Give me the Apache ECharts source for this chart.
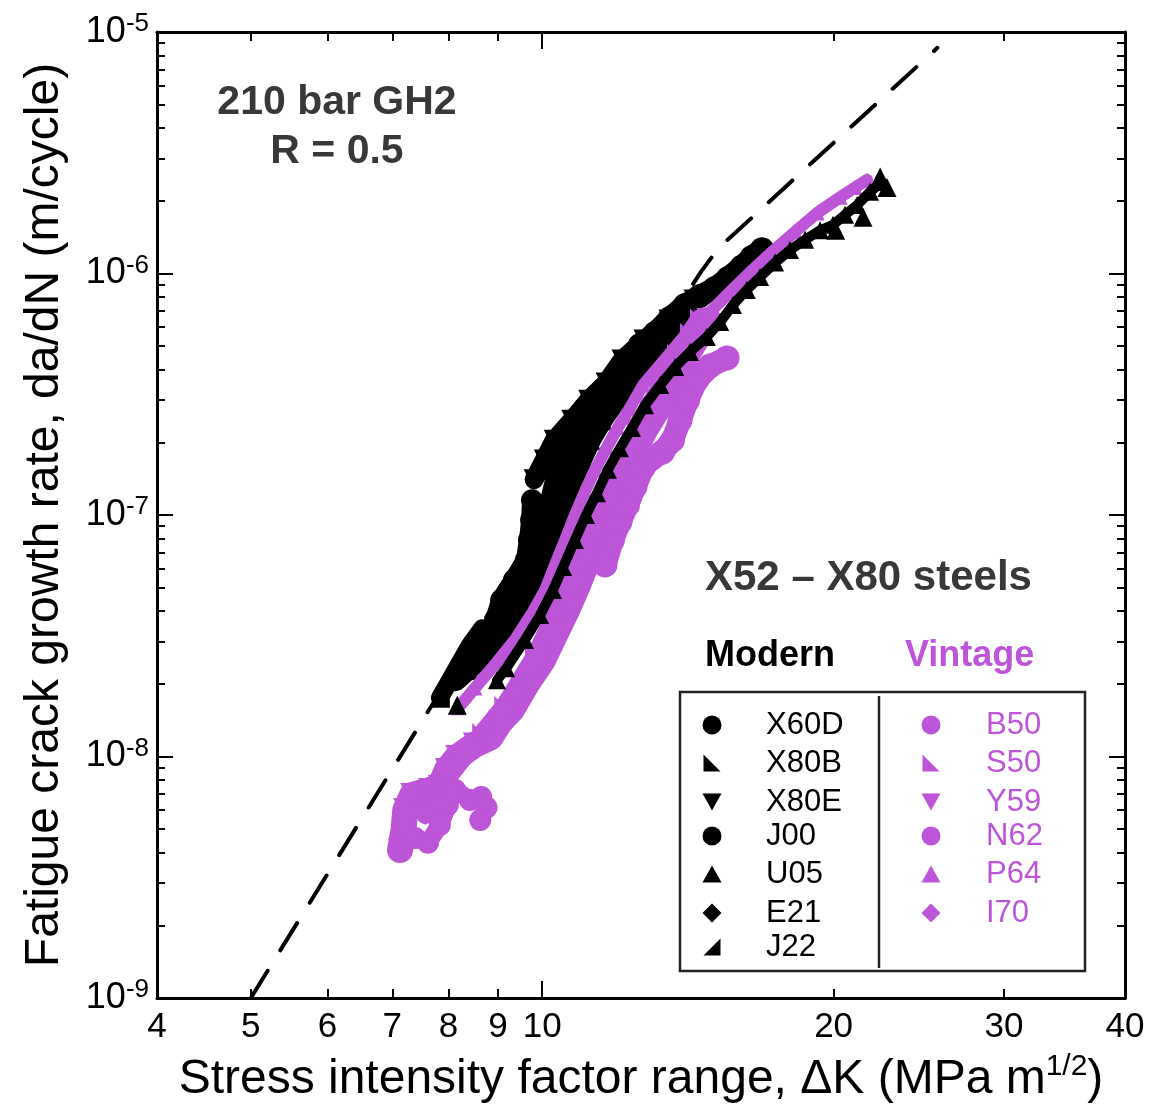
<!DOCTYPE html>
<html><head><meta charset="utf-8">
<script src="https://cdn.jsdelivr.net/npm/echarts@6/dist/echarts.min.js"></script>
<style>html,body{margin:0;padding:0;background:#fff}#c{width:1170px;height:1118px}</style>
</head><body><div id="c"></div>
<script>
// ---------- data (ΔK in MPa m^1/2, da/dN in m/cycle) ----------
const xTickLabels = [4, 5, 6, 7, 8, 9, 10, 20, 30, 40];
const xMinorTicks = [5, 6, 7, 8, 9, 20, 30];
const xMajorTicks = [10];
const yDecades = [-9, -8, -7, -6, -5];
const yMinorMultipliers = [2, 3, 4, 5, 6, 7, 8, 9];

const designCurve = [[5, 1.0e-9], [14.0, 7.9e-7], [14.6, 1.02e-6], [15.2, 1.27e-6], [25.6, 8.6e-6]];

// Modern
const X60D = [[12.62,5.06e-7],[13.08,5.67e-7],[13.55,6.54e-7],[14.05,7.41e-7],[14.55,8.07e-7],[15.08,8.71e-7],[15.56,9.58e-7],[16.08,1.07e-6],[16.47,1.17e-6],[16.87,1.26e-6]];
const X80B = [[8.42,2.28e-8],[8.65,2.51e-8],[9.05,3.04e-8],[9.42,3.67e-8],[9.69,4.45e-8],[9.86,5.38e-8],[10.02,6.51e-8],[10.21,7.88e-8],[10.38,9.53e-8],[10.61,1.15e-7],[10.81,1.40e-7],[11.02,1.69e-7],[11.26,2.04e-7],[11.58,2.47e-7],[11.97,2.99e-7],[12.29,3.52e-7],[12.87,4.38e-7],[13.43,5.30e-7],[14.08,6.42e-7]];
const X80E = [[9.81,1.40e-7],[10.05,1.69e-7],[10.29,2.04e-7],[10.73,2.47e-7],[11.17,2.99e-7],[11.64,3.52e-7],[12.09,4.38e-7],[12.74,5.30e-7],[13.52,6.42e-7],[14.35,7.77e-7]];
const J00 = [[8.11,2.07e-8],[8.56,2.51e-8],[8.77,3.04e-8],[8.94,3.67e-8],[9.07,4.45e-8],[9.35,5.38e-8],[9.62,6.51e-8],[9.69,7.88e-8],[9.74,9.53e-8],[9.76,1.15e-7]];
const U05 = [[8.98,2.07e-8],[9.18,2.32e-8],[9.60,3.04e-8],[9.95,3.85e-8],[10.26,4.89e-8],[10.51,6.09e-8],[10.81,7.88e-8],[11.10,1.00e-7],[11.39,1.23e-7],[11.69,1.54e-7],[12.03,1.89e-7],[12.38,2.29e-7],[12.77,2.85e-7],[13.24,3.45e-7],[13.72,4.10e-7],[14.21,4.73e-7],[14.79,5.46e-7],[15.27,6.30e-7],[15.74,7.41e-7],[16.27,8.55e-7],[16.79,9.67e-7],[17.40,1.11e-6],[18.03,1.25e-6],[18.69,1.38e-6],[19.37,1.51e-6],[19.97,1.59e-6],[20.55,1.75e-6],[21.15,1.92e-6],[21.81,2.18e-6],[22.44,2.39e-6]];
const U05extra = [[22.71,2.27e-6],[22.34,2.51e-6],[21.45,1.71e-6],[20.10,1.51e-6],[8.07,2.07e-8],[8.17,1.63e-8]];
const E21 = [[8.17,2.07e-8],[8.61,2.51e-8],[8.90,3.04e-8],[9.18,3.67e-8],[9.37,4.45e-8],[9.60,5.38e-8],[9.83,6.51e-8],[9.95,7.88e-8],[10.07,9.53e-8],[10.19,1.15e-7],[10.31,1.40e-7],[10.51,1.69e-7],[10.76,2.04e-7],[11.15,2.47e-7],[11.55,2.99e-7],[11.95,3.52e-7],[12.47,4.38e-7],[13.08,5.30e-7],[13.78,6.42e-7]];
const J22 = [[7.84,1.75e-8],[8.03,2.07e-8],[8.23,2.46e-8],[8.42,2.89e-8],[8.67,3.40e-8]];

// Vintage
const B50 = [[7.39,4.60e-9],[7.62,4.39e-9],[7.84,5.20e-9],[7.99,6.30e-9],[8.13,7.27e-9],[8.42,6.61e-9],[8.65,6.80e-9],[8.76,6.15e-9],[8.63,5.46e-9]];
const S50 = [[8.67,1.25e-8],[9.14,1.62e-8],[9.83,2.61e-8],[10.41,4.20e-8],[10.94,6.77e-8],[11.47,1.09e-7],[11.82,1.45e-7],[12.53,2.34e-7],[12.93,2.88e-7],[13.31,3.55e-7],[13.78,4.64e-7],[14.21,5.68e-7],[14.55,6.53e-7]];
const Y59 = [[7.13,4.10e-9],[7.19,4.96e-9],[7.22,6.00e-9],[7.34,6.93e-9],[7.66,7.27e-9],[7.84,7.50e-9],[7.97,8.79e-9],[8.17,9.95e-9],[8.52,1.12e-8],[8.84,1.20e-8],[9.05,1.39e-8],[9.30,1.56e-8],[9.63,1.98e-8],[10.02,2.51e-8],[10.31,3.19e-8],[10.61,4.04e-8],[10.89,5.13e-8],[11.15,6.51e-8],[11.42,8.27e-8],[11.69,1.05e-7],[12.03,1.40e-7],[12.38,1.77e-7],[12.77,2.25e-7],[13.18,2.77e-7],[13.55,3.45e-7],[14.05,4.47e-7],[14.48,5.46e-7],[14.85,6.42e-7]];
const N62 = [[11.61,6.21e-8],[11.82,7.88e-8],[12.03,9.35e-8],[12.25,1.10e-7],[12.47,1.31e-7],[12.71,1.57e-7],[12.99,1.72e-7],[13.31,1.82e-7],[13.63,2.04e-7],[13.88,2.47e-7],[14.13,2.99e-7],[14.44,3.62e-7],[14.91,4.14e-7],[15.52,4.47e-7]];
const P64 = [[8.19,1.59e-8],[8.52,1.92e-8],[8.98,2.46e-8],[9.37,3.04e-8],[9.78,3.97e-8],[10.07,4.89e-8],[10.31,6.21e-8],[10.56,7.88e-8],[10.81,1.00e-7],[11.07,1.25e-7],[11.34,1.54e-7],[11.66,1.90e-7],[11.97,2.30e-7],[12.32,2.77e-7],[12.71,3.45e-7],[13.24,4.18e-7],[13.78,5.06e-7],[14.28,6.00e-7],[14.91,6.93e-7],[15.63,8.38e-7],[16.39,1.01e-6],[17.32,1.24e-6],[18.25,1.49e-6],[19.23,1.78e-6],[20.31,2.07e-6],[21.05,2.27e-6],[21.66,2.44e-6]];
const I70 = [[7.57,5.73e-9],[7.70,6.61e-9],[7.84,7.27e-9],[8.03,8.38e-9],[8.23,9.50e-9],[8.46,1.09e-8],[8.73,1.22e-8]];

const modernNames = ['X60D', 'X80B', 'X80E', 'J00', 'U05', 'E21', 'J22'];
const modernShapes = ['circle', 'bl', 'down', 'circle', 'up', 'diamond', 'br'];
const vintageNames = ['B50', 'S50', 'Y59', 'N62', 'P64', 'I70'];
const vintageShapes = ['circle', 'bl', 'down', 'circle', 'up', 'diamond'];

// ---------- style ----------
const FONT = "'Liberation Sans', Arial, Helvetica, sans-serif";
const BLACK = '#000000';
const PURPLE = '#bd55d9';
const GRAY = '#383838';
const SYM = {
  circle: 'circle',
  up: 'triangle',
  diamond: 'diamond',
  down: 'path://M0,0 L10,0 L5,10 Z',
  bl: 'path://M0,0 L0,10 L10,10 Z',
  br: 'path://M10,0 L10,10 L0,10 Z'
};

const L10 = Math.log10;
const xr = [L10(4), L10(40)];
const yr = [-9, -5];
const yMinor = [];
for (let n = -9; n < -5; n++) yMinorMultipliers.forEach(k => yMinor.push(n + L10(k)));

function mk(name, data, shape, color, size, lw, z) {
  return {
    name, type: 'line', xAxisIndex: 0, yAxisIndex: 0, data,
    symbol: SYM[shape], symbolSize: size, showSymbol: true, showAllSymbol: true,
    lineStyle: lw > 0 ? { color, width: lw, cap: 'round', join: 'round' } : { width: 0, opacity: 0 },
    itemStyle: { color, borderWidth: 0 },
    emphasis: { disabled: true }, silent: true, animation: false, z: z || 2
  };
}

const tickLine = { color: BLACK, width: 2 };
function xTickAxis(pos, ticks, len, withLine, labels) {
  const a = {
    type: 'value', min: xr[0], max: xr[1], position: pos, gridIndex: 0,
    axisLine: { show: withLine, onZero: false, lineStyle: { color: BLACK, width: 3 } },
    splitLine: { show: false },
    axisTick: { show: true, inside: true, length: len, lineStyle: tickLine, customValues: ticks.map(L10) },
    axisLabel: { show: false }
  };
  if (labels) {
    a.axisLabel = {
      show: true, customValues: xTickLabels.map(L10),
      formatter: v => String(Math.round(Math.pow(10, v))),
      fontSize: 35, color: BLACK, fontFamily: FONT, margin: 12
    };
    a.name = 'Stress intensity factor range, \u0394K (MPa m{s|1/2})';
    a.nameLocation = 'middle';
    a.nameGap = 54;
    a.nameTextStyle = {
      fontSize: 48, color: BLACK, fontFamily: FONT, lineHeight: 56,
      rich: { s: { fontSize: 30, color: BLACK, fontFamily: FONT, verticalAlign: 'top', lineHeight: 32 } }
    };
  }
  return a;
}
function yTickAxis(pos, ticks, len, withLine, labels) {
  const a = {
    type: 'value', min: yr[0], max: yr[1], position: pos, gridIndex: 0,
    axisLine: { show: withLine, onZero: false, lineStyle: { color: BLACK, width: 3 } },
    splitLine: { show: false },
    axisTick: { show: true, inside: true, length: len, lineStyle: tickLine, customValues: ticks },
    axisLabel: { show: false }
  };
  if (labels) {
    a.axisLabel = {
      show: true, customValues: yDecades,
      formatter: v => '{b|10}{s|' + Math.round(v) + '}',
      margin: 8,
      rich: {
        b: { fontSize: 36, color: BLACK, fontFamily: FONT, lineHeight: 42 },
        s: { fontSize: 26, color: BLACK, fontFamily: FONT, verticalAlign: 'top', lineHeight: 26 }
      }
    };
    a.name = 'Fatigue crack growth rate, da/dN (m/cycle)';
    a.nameLocation = 'middle';
    a.nameGap = 88;
    a.nameRotate = 90;
    a.nameTextStyle = { fontSize: 48, color: BLACK, fontFamily: FONT };
  }
  return a;
}

// ---------- legend (drawn as annotation) ----------
function shapeEl(shape, cx, cy, color) {
  const h = 8.5;
  if (shape === 'circle') return { type: 'circle', shape: { cx, cy, r: 9.5 }, style: { fill: color }, silent: true };
  let pts;
  if (shape === 'up') pts = [[cx, cy - h], [cx + h + 1, cy + h], [cx - h - 1, cy + h]];
  if (shape === 'down') pts = [[cx - h - 1, cy - h], [cx + h + 1, cy - h], [cx, cy + h]];
  if (shape === 'bl') pts = [[cx - h, cy - h], [cx - h, cy + h], [cx + h, cy + h]];
  if (shape === 'br') pts = [[cx + h, cy - h], [cx + h, cy + h], [cx - h, cy + h]];
  if (shape === 'diamond') pts = [[cx, cy - h - 1], [cx + h + 1, cy], [cx, cy + h + 1], [cx - h - 1, cy]];
  return { type: 'polygon', shape: { points: pts }, style: { fill: color }, silent: true };
}
function textEl(text, x, y, size, color, weight, align) {
  return {
    type: 'text', x, y, silent: true,
    style: { text, fill: color, fontSize: size, fontFamily: FONT, fontWeight: weight || 'normal',
      align: align || 'left', verticalAlign: 'middle', textAlign: align || 'left', textVerticalAlign: 'middle' }
  };
}
const modernRows = [725, 763, 802, 836, 874, 913, 947];
const vintageRows = [725, 763, 802, 836, 874, 913];
const graphics = [
  textEl('210 bar GH2', 337, 103, 41, GRAY, 'bold', 'center'),
  textEl('R = 0.5', 337, 152, 41, GRAY, 'bold', 'center'),
  textEl('X52 \u2013 X80 steels', 705, 578, 42, GRAY, 'bold', 'left'),
  textEl('Modern', 705, 656, 36, BLACK, 'bold', 'left'),
  textEl('Vintage', 905, 656, 36, PURPLE, 'bold', 'left'),
  { type: 'rect', shape: { x: 680, y: 692, width: 405, height: 279 }, style: { fill: null, stroke: '#222', lineWidth: 2.5 }, silent: true },
  { type: 'line', shape: { x1: 879, y1: 696, x2: 879, y2: 968 }, style: { stroke: '#222', lineWidth: 2.5 }, silent: true }
];
modernNames.forEach((n, i) => {
  graphics.push(shapeEl(modernShapes[i], 712, modernRows[i], BLACK));
  graphics.push(textEl(n, 766, modernRows[i], 31, BLACK));
});
vintageNames.forEach((n, i) => {
  graphics.push(shapeEl(vintageShapes[i], 931, vintageRows[i], PURPLE));
  graphics.push(textEl(n, 986, vintageRows[i], 31, PURPLE));
});

const option = {
  backgroundColor: '#ffffff',
  animation: false,
  grid: { left: 157, right: 45, top: 32, bottom: 120, containLabel: false, outerBoundsMode: 'none' },
  xAxis: [
    { type: 'log', logBase: 10, min: 4, max: 40, show: false, gridIndex: 0 },
    xTickAxis('bottom', xMinorTicks, 9, true, true),
    xTickAxis('bottom', xMajorTicks, 17, false, false),
    xTickAxis('top', xMinorTicks, 9, true, false),
    xTickAxis('top', xMajorTicks, 17, false, false)
  ],
  yAxis: [
    { type: 'log', logBase: 10, min: 1e-9, max: 1e-5, show: false, gridIndex: 0 },
    yTickAxis('left', yDecades, 16, true, true),
    yTickAxis('left', yMinor, 8, false, false),
    yTickAxis('right', yDecades, 16, true, false),
    yTickAxis('right', yMinor, 8, false, false)
  ],
  graphic: { elements: graphics },
  series: [
    mk('J22', J22, 'br', BLACK, 20, 18, 2),
    mk('J00', J00, 'circle', BLACK, 22, 20, 2),
    mk('X80E', X80E, 'down', BLACK, 21, 19, 2),
    mk('E21', E21, 'diamond', BLACK, 21, 20, 2),
    mk('X80B', X80B, 'bl', BLACK, 20, 18, 2),
    mk('X60D', X60D, 'circle', BLACK, 24, 22, 2),
    mk('Y59', Y59, 'down', PURPLE, 24, 26, 3),
    mk('S50', S50, 'bl', PURPLE, 20, 18, 3),
    mk('I70', I70, 'diamond', PURPLE, 20, 18, 3),
    mk('B50', B50, 'circle', PURPLE, 22, 18, 3),
    mk('N62', N62, 'circle', PURPLE, 25, 23, 3),
    mk('P64', P64, 'up', PURPLE, 15, 12, 4),
    mk('U05', U05, 'up', BLACK, 18, 10, 5),
    mk('U05 ', U05extra, 'up', BLACK, 19, 0, 5),
    {
      name: 'design', type: 'line', xAxisIndex: 0, yAxisIndex: 0, data: designCurve,
      symbol: 'none', smooth: false, silent: true, z: 6,
      lineStyle: { color: BLACK, width: 4, type: [32, 24], cap: 'round' }
    }
  ]
};
const chart = echarts.init(document.getElementById('c'), null, { renderer: 'canvas' });
chart.setOption(option);
</script>
</body></html>
